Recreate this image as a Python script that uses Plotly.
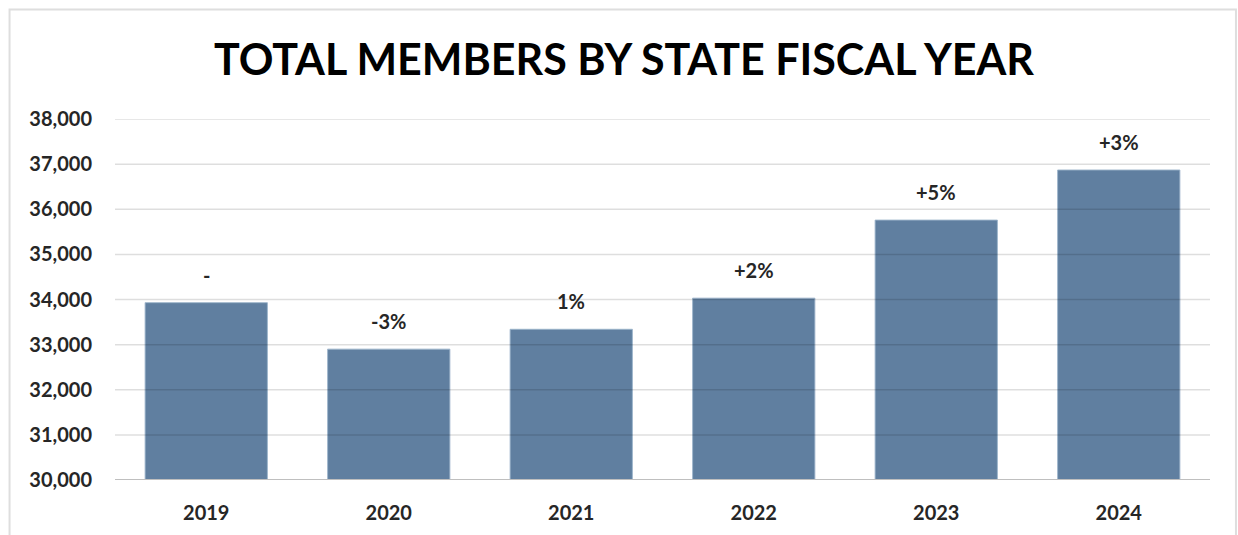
import plotly.graph_objects as go

# Members by state fiscal year and year-over-year change labels
years = ["2019", "2020", "2021", "2022", "2023", "2024"]
members = [33930, 32900, 33340, 34030, 35760, 36870]
change_labels = ["-", "-3%", "1%", "+2%", "+5%", "+3%"]
y_ticks = [30000, 31000, 32000, 33000, 34000, 35000, 36000, 37000, 38000]
y_tick_text = ["30,000", "31,000", "32,000", "33,000", "34,000", "35,000", "36,000", "37,000", "38,000"]

BAR_COLOR = "#547699"
TEXT_COLOR = "#262626"
FONT = "Lato"
LABEL_SIZE = 20

fig = go.Figure()
fig.add_trace(go.Bar(
    x=years,
    y=members,
    base=0,
    marker=dict(color=BAR_COLOR, opacity=0.93,
                line=dict(color="rgba(150,175,200,0.9)", width=1)),
    hoverinfo="x+y",
))

# Change labels above each bar (category index positions)
for i, (val, lab) in enumerate(zip(members, change_labels)):
    fig.add_annotation(
        x=i, y=val, text=lab, showarrow=False,
        yanchor="bottom", yshift=14,
        font=dict(family=FONT, size=LABEL_SIZE, color=TEXT_COLOR, weight="bold"),
    )

# Gridlines drawn above bars so they show through the fill
shapes = []
for t in y_ticks[1:]:
    shapes.append(dict(type="line", xref="paper", yref="y", x0=0, x1=1, y0=t, y1=t,
                       line=dict(color="rgba(0,0,0,0.13)", width=1.5), layer="above"))
shapes.append(dict(type="line", xref="paper", yref="y", x0=0, x1=1, y0=y_ticks[0], y1=y_ticks[0],
                   line=dict(color="#bfbfbf", width=2), layer="above"))
# Outer frame
shapes.append(dict(type="rect", xref="paper", yref="paper",
                   x0=-0.0963, x1=1.0237, y0=-0.2, y1=1.3033,
                   line=dict(color="#dedede", width=2), fillcolor="rgba(0,0,0,0)", layer="below"))

fig.update_layout(
    width=1238, height=535,
    margin=dict(l=115, r=28, t=119, b=55),
    paper_bgcolor="white", plot_bgcolor="white",
    bargap=0.33,
    showlegend=False,
    shapes=shapes,
    title=dict(
        text="TOTAL MEMBERS BY STATE FISCAL YEAR",
        x=0.504, xanchor="center", y=0.888, yanchor="middle",
        font=dict(family=FONT, size=43, color="black", weight="bold"),
    ),
    xaxis=dict(
        type="category",
        range=[-0.5, len(years) - 0.5],
        showgrid=False, showline=False, zeroline=False,
        tickfont=dict(family=FONT, size=LABEL_SIZE, color=TEXT_COLOR, weight="bold"),
        ticklabelstandoff=19,
    ),
    yaxis=dict(
        range=[30000, 38000],
        tickvals=y_ticks, ticktext=y_tick_text,
        showgrid=False, zeroline=False, showline=False,
        tickfont=dict(family=FONT, size=LABEL_SIZE, color=TEXT_COLOR, weight="bold"),
        ticklabelstandoff=22,
    ),
)

fig.write_html("out.html")
